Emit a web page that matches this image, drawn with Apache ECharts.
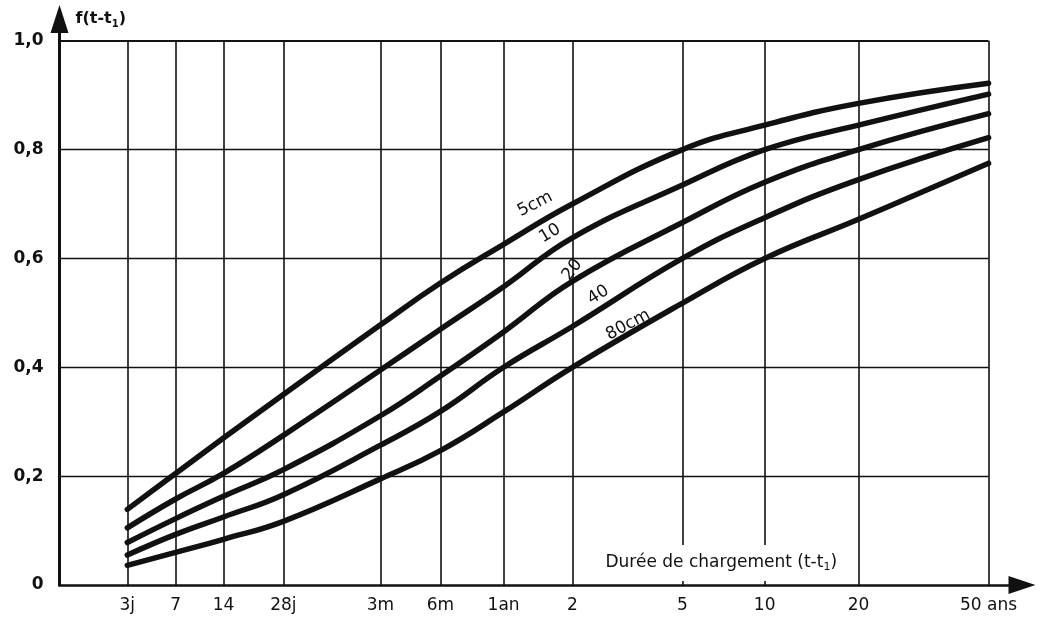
<!DOCTYPE html>
<html>
<head>
<meta charset="utf-8">
<script src="https://cdn.jsdelivr.net/npm/echarts@6/dist/echarts.min.js"></script>
<style>
  html, body { margin: 0; padding: 0; background: #fff; }
  #chart { width: 1042px; height: 629px; }
</style>
</head>
<body>
<div id="chart"></div>
<script>
// Loading-duration scale: label, duration in days, graduation along the scale (0 = origin, 100 = 50 years)
const tickLabels = ['3j', '7', '14', '28j', '3m', '6m', '1an', '2', '5', '10', '20', '50 ans'];
const tickDays   = [3, 7, 14, 28, 91, 182, 365, 730, 1826, 3652, 7305, 18262];
const tickGrad   = [7.3, 12.5, 17.65, 24.1, 34.55, 41.0, 47.8, 55.2, 67.05, 75.9, 86.0, 100];

// f(t - t1) levels with horizontal rules
const yLevels = [0.2, 0.4, 0.6, 0.8, 1.0];

// Notional thickness of the member
const thickness = ['5cm', '10', '20', '40', '80cm'];

// f(t - t1) read at each duration of tickDays
const f5cm  = [0.139, 0.205, 0.270, 0.350, 0.478, 0.555, 0.626, 0.700, 0.800, 0.845, 0.885, 0.922];
const f10cm = [0.105, 0.158, 0.205, 0.275, 0.395, 0.470, 0.548, 0.638, 0.735, 0.800, 0.845, 0.902];
const f20cm = [0.078, 0.122, 0.163, 0.212, 0.311, 0.384, 0.465, 0.558, 0.666, 0.740, 0.800, 0.866];
const f40cm = [0.055, 0.093, 0.125, 0.166, 0.257, 0.319, 0.400, 0.475, 0.600, 0.675, 0.745, 0.822];
const f80cm = [0.036, 0.060, 0.084, 0.117, 0.195, 0.247, 0.318, 0.400, 0.518, 0.600, 0.672, 0.775];
const curves = [f5cm, f10cm, f20cm, f40cm, f80cm];

const INK = '#111';
const FONT = 'DejaVu Sans';

// where each curve name is written, with its slant
const curveTags = [
  { coord: [51.2, 0.700], rotate: 27 },
  { coord: [52.8, 0.646], rotate: 31 },
  { coord: [55.2, 0.579], rotate: 52 },
  { coord: [58.0, 0.533], rotate: 32 },
  { coord: [61.2, 0.478], rotate: 28 }
];

const gridLines = [];
tickGrad.forEach(g => gridLines.push([{ coord: [g, 0] }, { coord: [g, 1.0] }]));
yLevels.forEach(v => gridLines.push([
  { coord: [0, v], lineStyle: { width: v === 1.0 ? 2.2 : 1.4 } },
  { coord: [100, v] }
]));

const series = [{
  type: 'line',
  data: [],
  silent: true,
  markLine: {
    silent: true,
    symbol: 'none',
    animation: false,
    label: { show: false },
    lineStyle: { color: INK, type: 'solid', width: 1.6 },
    data: gridLines
  },
  markPoint: {
    silent: true,
    animation: false,
    symbol: 'circle',
    symbolSize: 0,
    z: 10,
    data: [{
      coord: [84.55, 0.0404],
      label: {
        show: true,
        position: 'left',
        distance: 0,
        backgroundColor: '#fff',
        padding: [8, 8, 8, 12],
        formatter: '{a|Durée de chargement (t-t}{s|1}{a|)}',
        rich: {
          a: { fontFamily: FONT, fontSize: 17, color: INK, lineHeight: 20 },
          s: { fontFamily: FONT, fontSize: 11, color: INK, lineHeight: 11, verticalAlign: 'bottom' }
        }
      }
    }]
  }
}];

curves.forEach((vals, k) => {
  series.push({
    name: thickness[k],
    type: 'line',
    data: tickGrad.map((g, i) => [g, vals[i]]),
    symbol: 'none',
    smooth: 0.45,
    lineStyle: { color: INK, width: 5.5, cap: 'round', join: 'round' },
    z: 3,
    markPoint: {
      silent: true,
      animation: false,
      symbol: 'circle',
      symbolSize: 0,
      data: [{
        coord: curveTags[k].coord,
        label: {
          show: true,
          position: 'inside',
          rotate: curveTags[k].rotate,
          formatter: thickness[k],
          fontFamily: FONT,
          fontSize: 17,
          color: INK
        }
      }]
    }
  });
});

const chart = echarts.init(document.getElementById('chart'), null, { renderer: 'canvas' });
chart.setOption({
  animation: false,
  backgroundColor: '#fff',
  grid: { left: 59.5, right: 20, top: 19, bottom: 44, containLabel: false },
  xAxis: {
    type: 'value',
    min: 0,
    max: 103.6,
    splitLine: { show: false },
    axisTick: { show: false },
    axisLine: {
      show: true,
      symbol: ['none', 'triangle'],
      symbolSize: [18, 27],
      lineStyle: { color: INK, width: 2.6 }
    },
    axisLabel: {
      customValues: tickGrad,
      margin: 12,
      fontFamily: FONT,
      fontSize: 17,
      color: INK,
      formatter: v => {
        const i = tickGrad.findIndex(g => Math.abs(g - v) < 1e-6);
        return i >= 0 ? tickLabels[i] : '';
      }
    }
  },
  yAxis: {
    type: 'value',
    min: 0,
    max: 1.04,
    interval: 0.2,
    splitLine: { show: false },
    axisTick: { show: false },
    axisLine: {
      show: true,
      symbol: ['none', 'triangle'],
      symbolSize: [18, 28],
      lineStyle: { color: INK, width: 3 }
    },
    axisLabel: {
      margin: 16,
      fontFamily: FONT,
      fontSize: 17,
      fontWeight: 'bold',
      color: INK,
      formatter: v => v > 1.001 ? '' : (v === 0 ? '0' : v.toFixed(1).replace('.', ','))
    },
    name: '{a|f(t-t}{s|1}{a|)}',
    nameLocation: 'end',
    nameGap: 0,
    nameTextStyle: {
      align: 'left',
      verticalAlign: 'middle',
      padding: [0, 0, 0, 16],
      rich: {
        a: { fontFamily: FONT, fontSize: 16, fontWeight: 'bold', color: INK, lineHeight: 20 },
        s: { fontFamily: FONT, fontSize: 10, fontWeight: 'bold', color: INK, lineHeight: 10, verticalAlign: 'bottom' }
      }
    }
  },
  series: series
});
</script>
</body>
</html>
